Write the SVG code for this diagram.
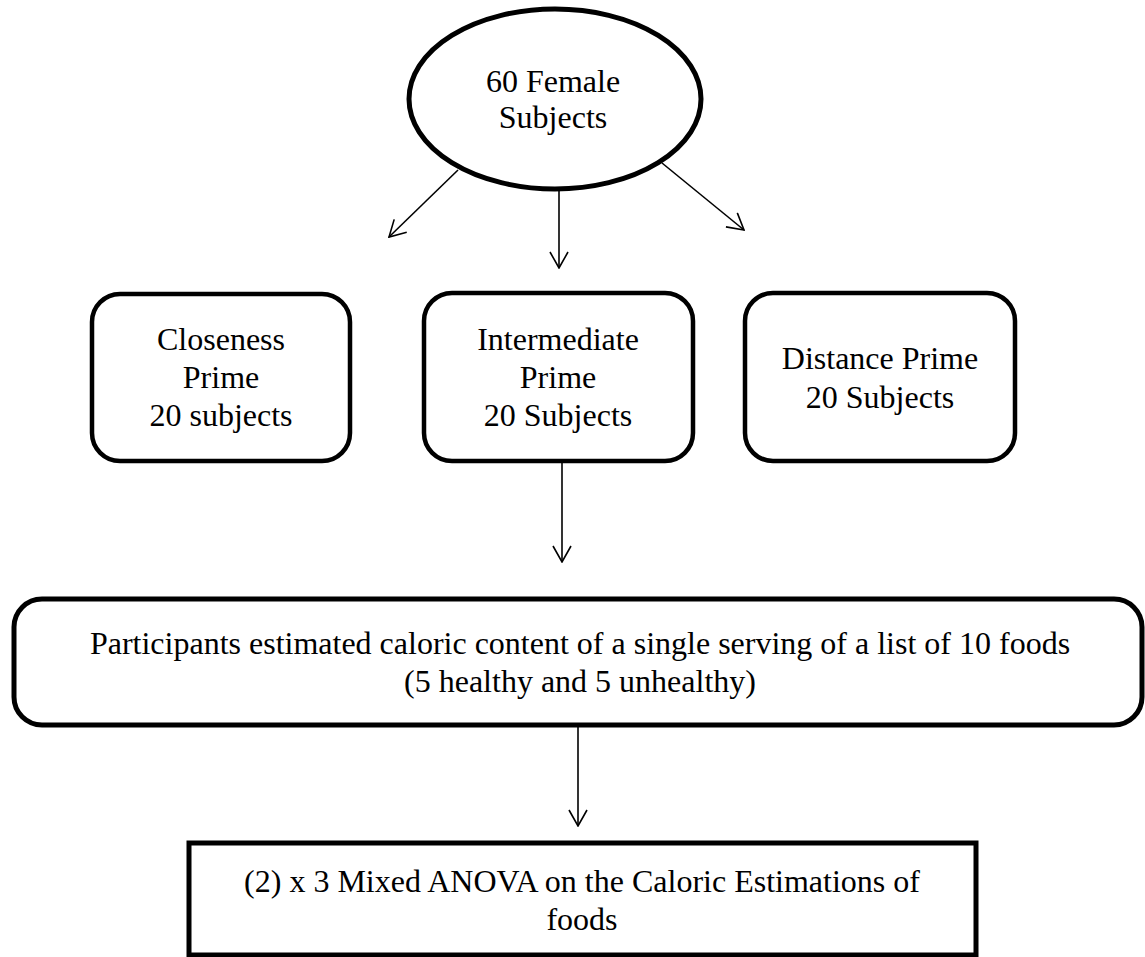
<svg xmlns="http://www.w3.org/2000/svg" width="1145" height="957" viewBox="0 0 1145 957">
<style>
  .shape { fill: #ffffff; stroke: #000000; }
  .thick { stroke-width: 5; }
  .box { stroke-width: 4.5; }
  .lbl { font-family: "Liberation Serif", "Times New Roman", serif; font-size: 32px; fill: #000000; text-anchor: middle; }
  .conn { stroke: #000000; stroke-width: 1.6; fill: none; marker-end: url(#arrow); }
</style>
<defs>
  <marker id="arrow" viewBox="0 0 18 20" refX="17" refY="10" markerWidth="18" markerHeight="20" markerUnits="userSpaceOnUse" orient="auto">
    <path d="M1,1 L17,10 L1,19" fill="none" stroke="#000000" stroke-width="1.6"/>
  </marker>
</defs>
<rect width="1145" height="957" fill="#ffffff"/>
<g id="connectors">
  <line class="conn" x1="458" y1="170" x2="389" y2="237"/>
  <line class="conn" x1="559" y1="190" x2="559" y2="268"/>
  <line class="conn" x1="662" y1="163" x2="744" y2="230"/>
  <line class="conn" x1="562" y1="463" x2="562" y2="562"/>
  <line class="conn" x1="578" y1="727" x2="578" y2="826"/>
</g>
<g id="node-subjects">
  <ellipse class="shape thick" cx="555" cy="99" rx="146" ry="90"/>
  <text class="lbl" x="553" y="92">60 Female</text>
  <text class="lbl" x="553" y="128">Subjects</text>
</g>
<g id="node-closeness">
  <rect class="shape box" x="92" y="294" width="258" height="167" rx="28"/>
  <text class="lbl" x="221" y="350">Closeness</text>
  <text class="lbl" x="221" y="388">Prime</text>
  <text class="lbl" x="221" y="426">20 subjects</text>
</g>
<g id="node-intermediate">
  <rect class="shape box" x="424" y="293" width="269" height="168" rx="28"/>
  <text class="lbl" x="558" y="350">Intermediate</text>
  <text class="lbl" x="558" y="388">Prime</text>
  <text class="lbl" x="558" y="426">20 Subjects</text>
</g>
<g id="node-distance">
  <rect class="shape box" x="745" y="293" width="270" height="168" rx="28"/>
  <text class="lbl" x="880" y="369">Distance Prime</text>
  <text class="lbl" x="880" y="408">20 Subjects</text>
</g>
<g id="node-estimation">
  <rect class="shape thick" x="14" y="599" width="1128" height="126" rx="28"/>
  <text class="lbl" x="580" y="654">Participants estimated caloric content of a single serving of a list of 10 foods</text>
  <text class="lbl" x="580" y="692">(5 healthy and 5 unhealthy)</text>
</g>
<g id="node-anova">
  <rect class="shape thick" x="189" y="843" width="787" height="112"/>
  <text class="lbl" x="582" y="892">(2) x 3 Mixed ANOVA on the Caloric Estimations of</text>
  <text class="lbl" x="582" y="930">foods</text>
</g>
</svg>
